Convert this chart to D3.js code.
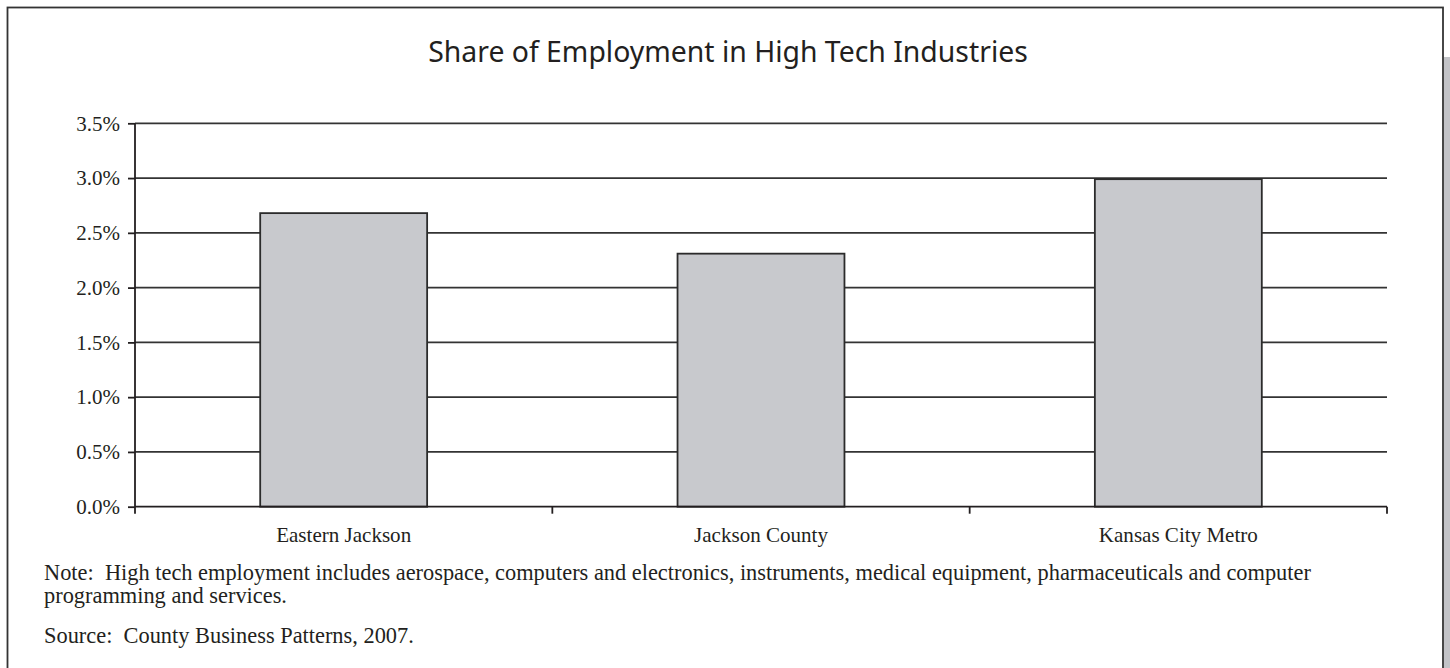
<!DOCTYPE html>
<html>
<head>
<meta charset="utf-8">
<script src="https://cdn.jsdelivr.net/npm/d3@7"></script>
<style>
  html, body { margin: 0; padding: 0; background: #fff; }
  svg { display: block; }
  .serif { font-family: "Liberation Serif", "Times New Roman", serif; fill: #231f20; }
</style>
</head>
<body>
<svg id="chart" width="1450" height="668"></svg>
<script>
// Share of employment in high tech industries, 2007
const categories = ["Eastern Jackson", "Jackson County", "Kansas City Metro"];
const shares = [0.0268, 0.0231, 0.0299];
const yTicks = [0, 0.005, 0.01, 0.015, 0.02, 0.025, 0.03, 0.035];

const titleText = "Share of Employment in High Tech Industries";
const noteLines = [
  "Note:  High tech employment includes aerospace, computers and electronics, instruments, medical equipment, pharmaceuticals and computer",
  "programming and services."
];
const sourceText = "Source:  County Business Patterns, 2007.";

const svg = d3.select("#chart");
const ink = "#231f20";

// resize a text element so that it spans the given width
function fitWidth(sel, base, width) {
  sel.style("font-size", base + "px");
  const w = sel.node().getComputedTextLength();
  const size = base * width / w;
  sel.style("font-size", size + "px");
  return size;
}

// page frame and side strip
svg.append("rect")
  .attr("x", 1444).attr("y", 57).attr("width", 6).attr("height", 611)
  .attr("fill", "#c2c3c7");
svg.append("rect")
  .attr("x", 7.5).attr("y", 7.5).attr("width", 1435.5).attr("height", 700)
  .attr("fill", "none").attr("stroke", "#333").attr("stroke-width", 1.8);

// title
const title = svg.append("text")
  .attr("x", 728).attr("y", 62)
  .attr("text-anchor", "middle")
  .style("font-family", "'Noto Sans', 'DejaVu Sans', sans-serif")
  .style("font-weight", 400)
  .attr("fill", ink)
  .text(titleText);
fitWidth(title, 27, 600);

// scales
const x = d3.scaleBand()
  .domain(categories)
  .range([135, 1387])
  .paddingInner(0.6)
  .paddingOuter(0.3);

const y = d3.scaleLinear()
  .domain([0, 0.035])
  .range([506.7, 123.3]);

// horizontal gridlines
svg.append("g")
  .selectAll("line")
  .data(yTicks.filter(d => d > 0))
  .join("line")
  .attr("x1", 135).attr("x2", 1387)
  .attr("y1", d => y(d)).attr("y2", d => y(d))
  .attr("stroke", "#333").attr("stroke-width", 1.7);

// bars
svg.append("g")
  .selectAll("rect")
  .data(categories)
  .join("rect")
  .attr("x", d => x(d))
  .attr("width", x.bandwidth())
  .attr("y", (d, i) => y(shares[i]))
  .attr("height", (d, i) => y(0) - y(shares[i]))
  .attr("fill", "#c8c9cd")
  .attr("stroke", "#2b2b2b")
  .attr("stroke-width", 1.8);

// y axis
const yAxis = d3.axisLeft(y)
  .tickValues(yTicks)
  .tickFormat(d3.format(".1%"))
  .tickSizeInner(7)
  .tickSizeOuter(0)
  .tickPadding(8);

const gy = svg.append("g")
  .attr("transform", "translate(135,0)")
  .call(yAxis);
gy.select(".domain").attr("stroke", ink).attr("stroke-width", 1.8)
  .attr("d", `M0,${y(0.035)}V${y(0) + 7}`);
gy.selectAll(".tick line").attr("stroke", ink).attr("stroke-width", 1.8);
gy.selectAll(".tick text")
  .attr("class", "serif")
  .style("font-size", "21px")
  .attr("fill", ink);

// x axis with tick marks between categories
const step = x.step();
const boundaries = d3.range(categories.length + 1).map(i => 135 + i * step);

const gx = svg.append("g");
gx.append("line")
  .attr("x1", 135).attr("x2", 1387)
  .attr("y1", y(0)).attr("y2", y(0))
  .attr("stroke", ink).attr("stroke-width", 1.8);
gx.selectAll("line.tk")
  .data(boundaries.slice(1))
  .join("line")
  .attr("class", "tk")
  .attr("x1", d => d).attr("x2", d => d)
  .attr("y1", y(0)).attr("y2", y(0) + 7)
  .attr("stroke", ink).attr("stroke-width", 1.8);
const catLabels = gx.selectAll("text")
  .data(categories)
  .join("text")
  .attr("class", "serif")
  .attr("x", d => x(d) + x.bandwidth() / 2)
  .attr("y", 541.5)
  .attr("text-anchor", "middle")
  .text(d => d);
const catSize = fitWidth(catLabels.filter((d, i) => i === 1), 20, 134);
catLabels.style("font-size", catSize + "px");

// note and source
const noteText = svg.selectAll("text.note")
  .data(noteLines)
  .join("text")
  .attr("class", "note serif")
  .attr("x", 44)
  .attr("y", (d, i) => 580 + i * 23)
  .style("white-space", "pre")
  .text(d => d);
const noteSize = fitWidth(noteText.filter((d, i) => i === 0), 20, 1268);
noteText.style("font-size", noteSize + "px");
svg.append("text")
  .attr("class", "serif")
  .attr("x", 44).attr("y", 643)
  .style("white-space", "pre")
  .style("font-size", noteSize + "px")
  .text(sourceText);
</script>
</body>
</html>
